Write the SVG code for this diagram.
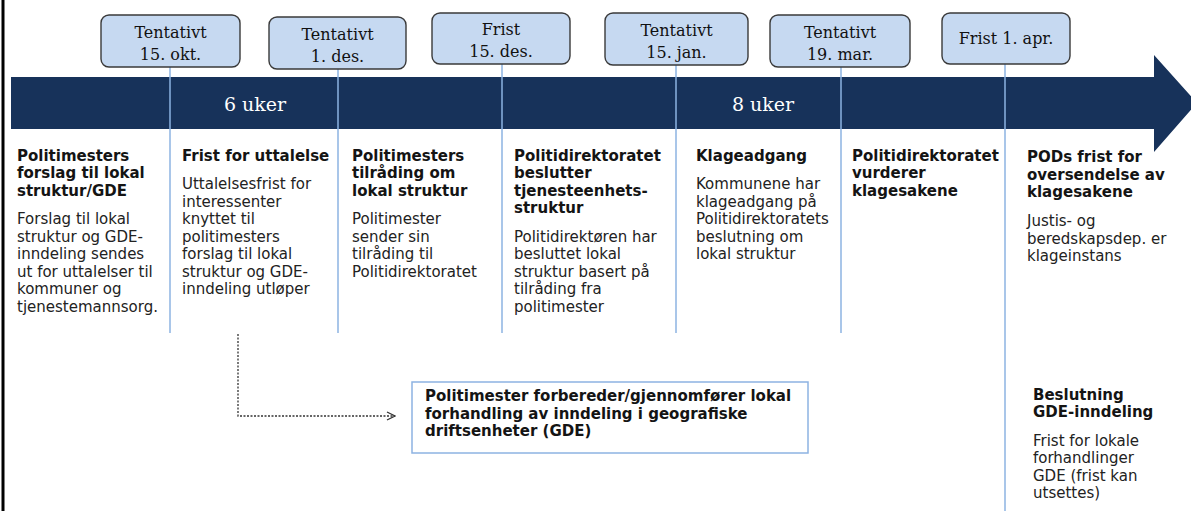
<svg xmlns="http://www.w3.org/2000/svg" width="1191" height="511" viewBox="0 0 1191 511">
<style>
.box{fill:#c6d9f1;stroke:#3a3a3a;stroke-width:1.4}
.bt{font-family:"DejaVu Serif","Liberation Serif",serif;font-size:16px;fill:#111111;text-anchor:middle}
.wk{font-family:"DejaVu Serif","Liberation Serif",serif;font-size:19px;fill:#ffffff;text-anchor:middle}
.t{font-family:"DejaVu Sans",Verdana,sans-serif;font-size:15px;font-weight:bold;fill:#141414}
.b{font-family:"DejaVu Sans",Verdana,sans-serif;font-size:15px;fill:#222222}
.vl{stroke:#8db3e2;stroke-width:1.5;fill:none}
.dash{stroke:#333333;stroke-width:1.3;fill:none;stroke-dasharray:2 1.5}
</style>
<defs>
<marker id="open" viewBox="0 0 10 10" refX="9" refY="5" markerWidth="10" markerHeight="10" markerUnits="userSpaceOnUse" orient="auto">
<path d="M1,1 L9,5 L1,9" fill="none" stroke="#333333" stroke-width="1.3"/>
</marker>
</defs>
<rect x="0" y="0" width="1191" height="511" fill="#ffffff"/>
<rect x="1.5" y="0" width="3" height="511" fill="#000000"/>
<g id="band">
<path d="M11,77 H1154 V55 L1197,103 L1154,152 V129 H11 Z" fill="#17325a"/>
<text class="wk" x="255" y="111">6 uker</text>
<text class="wk" x="763" y="111">8 uker</text>
</g>
<g id="connectors">
<line class="vl" x1="170" y1="67" x2="170" y2="333"/>
<line class="vl" x1="338" y1="69" x2="338" y2="333"/>
<line class="vl" x1="502" y1="64" x2="502" y2="333"/>
<line class="vl" x1="676" y1="65" x2="676" y2="333"/>
<line class="vl" x1="841" y1="67" x2="841" y2="333"/>
<line class="vl" x1="1005" y1="64" x2="1005" y2="511"/>
<path class="dash" d="M238,334 V416 H395" marker-end="url(#open)"/>
</g>
<g id="m1"><rect class="box" x="101" y="15" width="139" height="52" rx="8"/><text class="bt" x="170.5" y="38">Tentativt</text><text class="bt" x="170.5" y="60">15. okt.</text></g>
<g id="m2"><rect class="box" x="269" y="17" width="137" height="52" rx="8"/><text class="bt" x="337.5" y="40">Tentativt</text><text class="bt" x="337.5" y="62">1. des.</text></g>
<g id="m3"><rect class="box" x="432" y="13" width="138" height="51" rx="8"/><text class="bt" x="501" y="35">Frist</text><text class="bt" x="501" y="57">15. des.</text></g>
<g id="m4"><rect class="box" x="605" y="13" width="143" height="52" rx="8"/><text class="bt" x="676.5" y="36">Tentativt</text><text class="bt" x="676.5" y="58">15. jan.</text></g>
<g id="m5"><rect class="box" x="770" y="15" width="140" height="52" rx="8"/><text class="bt" x="840" y="38">Tentativt</text><text class="bt" x="840" y="60">19. mar.</text></g>
<g id="m6"><rect class="box" x="942" y="13" width="128" height="51" rx="8"/><text class="bt" x="1006" y="44">Frist 1. apr.</text></g>
<g id="c1">
<text class="t" x="17" y="160.5"><tspan x="17">Politimesters</tspan><tspan x="17" dy="17.5">forslag til lokal</tspan><tspan x="17" dy="17.5">struktur/GDE</tspan></text>
<text class="b" x="17" y="224"><tspan x="17">Forslag til lokal</tspan><tspan x="17" dy="17.5">struktur og GDE-</tspan><tspan x="17" dy="17.5">inndeling sendes</tspan><tspan x="17" dy="17.5">ut for uttalelser til</tspan><tspan x="17" dy="17.5">kommuner og</tspan><tspan x="17" dy="17.5">tjenestemannsorg.</tspan></text>
</g>
<g id="c2">
<text class="t" x="182" y="160.5">Frist for uttalelse</text>
<text class="b" x="182" y="189"><tspan x="182">Uttalelsesfrist for</tspan><tspan x="182" dy="17.5">interessenter</tspan><tspan x="182" dy="17.5">knyttet til</tspan><tspan x="182" dy="17.5">politimesters</tspan><tspan x="182" dy="17.5">forslag til lokal</tspan><tspan x="182" dy="17.5">struktur og GDE-</tspan><tspan x="182" dy="17.5">inndeling utløper</tspan></text>
</g>
<g id="c3">
<text class="t" x="352" y="160.5"><tspan x="352">Politimesters</tspan><tspan x="352" dy="17.5">tilråding om</tspan><tspan x="352" dy="17.5">lokal struktur</tspan></text>
<text class="b" x="352" y="224"><tspan x="352">Politimester</tspan><tspan x="352" dy="17.5">sender sin</tspan><tspan x="352" dy="17.5">tilråding til</tspan><tspan x="352" dy="17.5">Politidirektoratet</tspan></text>
</g>
<g id="c4">
<text class="t" x="514" y="160.5"><tspan x="514">Politidirektoratet</tspan><tspan x="514" dy="17.5">beslutter</tspan><tspan x="514" dy="17.5">tjenesteenhets-</tspan><tspan x="514" dy="17.5">struktur</tspan></text>
<text class="b" x="514" y="241.5"><tspan x="514">Politidirektøren har</tspan><tspan x="514" dy="17.5">besluttet lokal</tspan><tspan x="514" dy="17.5">struktur basert på</tspan><tspan x="514" dy="17.5">tilråding fra</tspan><tspan x="514" dy="17.5">politimester</tspan></text>
</g>
<g id="c5">
<text class="t" x="696" y="160.5">Klageadgang</text>
<text class="b" x="696" y="189"><tspan x="696">Kommunene har</tspan><tspan x="696" dy="17.5">klageadgang på</tspan><tspan x="696" dy="17.5">Politidirektoratets</tspan><tspan x="696" dy="17.5">beslutning om</tspan><tspan x="696" dy="17.5">lokal struktur</tspan></text>
</g>
<g id="c6">
<text class="t" x="852" y="160.5"><tspan x="852">Politidirektoratet</tspan><tspan x="852" dy="17.5">vurderer</tspan><tspan x="852" dy="17.5">klagesakene</tspan></text>
</g>
<g id="c7">
<text class="t" x="1027" y="162"><tspan x="1027">PODs frist for</tspan><tspan x="1027" dy="17.5">oversendelse av</tspan><tspan x="1027" dy="17.5">klagesakene</tspan></text>
<text class="b" x="1027" y="226"><tspan x="1027">Justis- og</tspan><tspan x="1027" dy="17.5">beredskapsdep. er</tspan><tspan x="1027" dy="17.5">klageinstans</tspan></text>
</g>
<g id="gde">
<rect x="412" y="382" width="396" height="71" fill="#ffffff" stroke="#8db3e2" stroke-width="1.5"/>
<text class="t" x="425" y="401"><tspan x="425">Politimester forbereder/gjennomfører lokal</tspan><tspan x="425" dy="17.5">forhandling av inndeling i geografiske</tspan><tspan x="425" dy="17.5">driftsenheter (GDE)</tspan></text>
</g>
<g id="c8">
<text class="t" x="1033" y="399.5"><tspan x="1033">Beslutning</tspan><tspan x="1033" dy="17.5">GDE-inndeling</tspan></text>
<text class="b" x="1033" y="445.5"><tspan x="1033">Frist for lokale</tspan><tspan x="1033" dy="17.5">forhandlinger</tspan><tspan x="1033" dy="17.5">GDE (frist kan</tspan><tspan x="1033" dy="17.5">utsettes)</tspan></text>
</g>
</svg>
